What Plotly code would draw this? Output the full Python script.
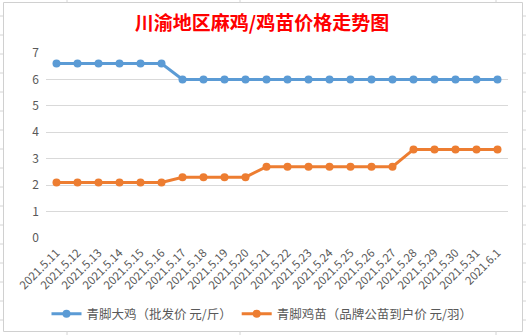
import plotly.graph_objects as go

dates = ["2021.5.11", "2021.5.12", "2021.5.13", "2021.5.14", "2021.5.15", "2021.5.16",
         "2021.5.17", "2021.5.18", "2021.5.19", "2021.5.20", "2021.5.21", "2021.5.22",
         "2021.5.23", "2021.5.24", "2021.5.25", "2021.5.26", "2021.5.27", "2021.5.28",
         "2021.5.29", "2021.5.30", "2021.5.31", "2021.6.1"]
big_chicken = [6.6, 6.6, 6.6, 6.6, 6.6, 6.6, 6.0, 6.0, 6.0, 6.0, 6.0, 6.0,
               6.0, 6.0, 6.0, 6.0, 6.0, 6.0, 6.0, 6.0, 6.0, 6.0]
chick = [2.1, 2.1, 2.1, 2.1, 2.1, 2.1, 2.3, 2.3, 2.3, 2.3, 2.7, 2.7,
         2.7, 2.7, 2.7, 2.7, 2.7, 3.35, 3.35, 3.35, 3.35, 3.35]
y_ticks = [0, 1, 2, 3, 4, 5, 6, 7]
name_big = "青脚大鸡（批发价 元/斤）"
name_chick = "青脚鸡苗（品牌公苗到户价 元/羽）"
title_text = "川渝地区麻鸡/鸡苗价格走势图"

W, H = 526, 335
ML, MR, MT, MB = 46, 18, 53, 97
PW, PH = W - ML - MR, H - MT - MB

def px_x(p):
    return (p - ML) / PW

def px_y(p):
    return 1 - (p - MT) / PH

font_family = "Noto Sans CJK SC, Noto Sans, sans-serif"

fig = go.Figure()
fig.add_trace(go.Scatter(
    x=dates, y=big_chicken, name=name_big, mode="lines+markers",
    line=dict(color="#5B9BD5", width=3), marker=dict(size=8, color="#5B9BD5"),
))
fig.add_trace(go.Scatter(
    x=dates, y=chick, name=name_chick, mode="lines+markers",
    line=dict(color="#ED7D31", width=3), marker=dict(size=8, color="#ED7D31"),
))

shapes = []
grid_col = "#d4d4d4"
# spreadsheet cell lines outside the chart
for r in range(17):
    yy = 16 + 19 * r
    for x0, x1 in [(0, 3), (523, 526)]:
        shapes.append(dict(type="line", xref="paper", yref="paper",
                           x0=px_x(x0), x1=px_x(x1), y0=px_y(yy), y1=px_y(yy),
                           line=dict(color=grid_col, width=1)))
for xx in [67, 240, 496]:
    for y0, y1 in [(0, 2), (331, 335)]:
        shapes.append(dict(type="line", xref="paper", yref="paper",
                           x0=px_x(xx), x1=px_x(xx), y0=px_y(y0), y1=px_y(y1),
                           line=dict(color=grid_col, width=1)))
# chart border
shapes.append(dict(type="rect", xref="paper", yref="paper",
                   x0=px_x(3.5), x1=px_x(522.5), y0=px_y(2.5), y1=px_y(331.5),
                   line=dict(color="#d0d0d0", width=1), fillcolor="rgba(0,0,0,0)",
                   layer="below"))

fig.update_layout(
    width=W, height=H,
    margin=dict(l=ML, r=MR, t=MT, b=MB, autoexpand=False),
    paper_bgcolor="white", plot_bgcolor="white",
    font=dict(family=font_family, color="#595959", size=12),
    title=dict(text="<b>" + title_text + "</b>", x=262 / W, xref="container", xanchor="center",
               y=1 - 23 / H, yref="container", yanchor="middle",
               font=dict(size=19, color="#FF0000", family=font_family)),
    xaxis=dict(type="category", range=[-0.5, len(dates) - 0.5], showgrid=False,
               zeroline=False, showline=False, tickangle=-45, ticks="",
               ticklabelstandoff=5,
               tickfont=dict(size=11.5, color="#595959"), fixedrange=True),
    yaxis=dict(range=[0, 7], tickvals=y_ticks, showgrid=True, gridcolor="#d9d9d9",
               gridwidth=1, zeroline=False, showline=False, ticks="",
               ticklabelstandoff=6,
               tickfont=dict(size=12, color="#595959")),
    legend=dict(orientation="h", x=px_x(262), xanchor="center",
                y=px_y(314), yanchor="middle", itemwidth=30,
                font=dict(size=12.5, color="#595959"), bgcolor="rgba(0,0,0,0)"),
    shapes=shapes,
    showlegend=True,
)

fig.write_html("out.html")
